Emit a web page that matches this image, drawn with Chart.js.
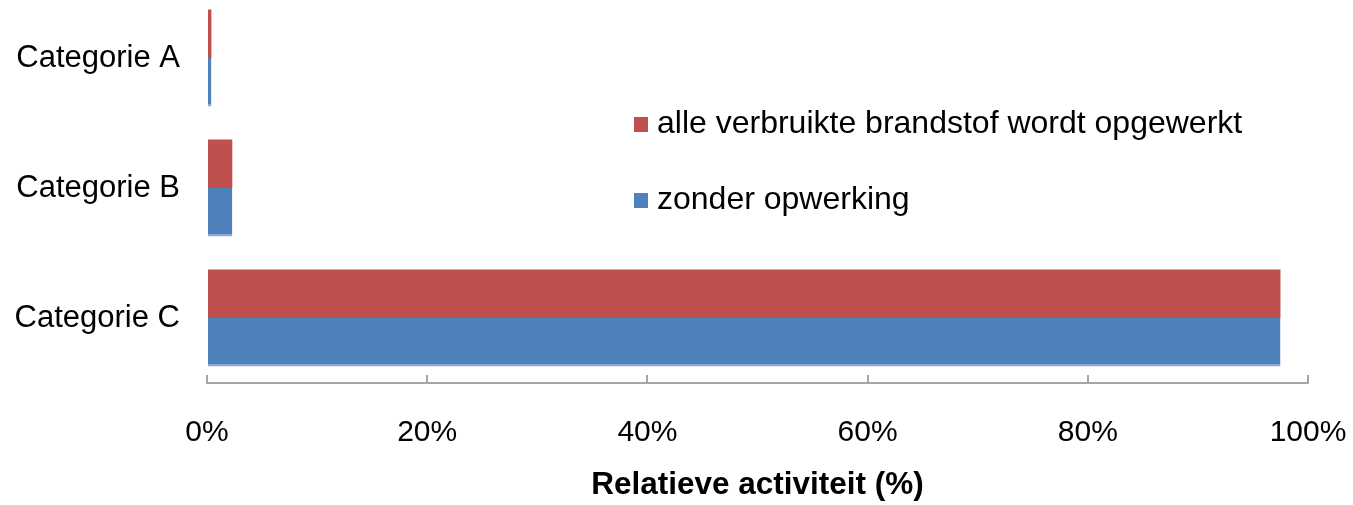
<!DOCTYPE html>
<html>
<head>
<meta charset="utf-8">
<script src="https://cdn.jsdelivr.net/npm/chart.js@4.4.1/dist/chart.umd.min.js"></script>
<style>
  body { margin: 0; overflow: hidden; background: #fff; }
  #wrap { position: absolute; left: 0; top: -8px; width: 1353px; height: 513px; }
</style>
</head>
<body>
<div id="wrap"><canvas id="activityChart"></canvas></div>
<script>
// data
const categories = ['Categorie A', 'Categorie B', 'Categorie C'];
const seriesNames = ['alle verbruikte brandstof wordt opgewerkt', 'zonder opwerking'];
const opgewerkt = [0.4, 2.3, 97.5];
const zonderOpwerking = [0.4, 2.3, 97.5];
const xTicks = [0, 20, 40, 60, 80, 100];

const RED = '#C0504D';
const BLUE = '#4F81BD';
const FONT = "'Liberation Sans', Arial, sans-serif";

// legend drawn at a fixed spot inside the plot, like the original
const sideLegend = {
    id: 'sideLegend',
    afterDraw(chart) {
        const ctx = chart.ctx;
        const rows = [125, 201];
        ctx.save();
        ctx.font = '32px ' + FONT;
        ctx.textBaseline = 'alphabetic';
        chart.data.datasets.forEach((ds, i) => {
            ctx.fillStyle = ds.backgroundColor;
            ctx.fillRect(634, rows[i], 14, 15);
            ctx.fillStyle = '#000';
            ctx.fillText(ds.label, 657, rows[i] + 16);
        });
        ctx.restore();
    }
};

const ctx = document.getElementById('activityChart').getContext('2d');
new Chart(ctx, {
    type: 'bar',
    data: {
        labels: categories,
        datasets: [{
            label: seriesNames[0],
            data: opgewerkt,
            backgroundColor: RED,
            borderWidth: 0,
            categoryPercentage: 0.746,
            barPercentage: 1
        }, {
            label: seriesNames[1],
            data: zonderOpwerking,
            backgroundColor: BLUE,
            borderColor: '#8AAAD6',
            borderWidth: { bottom: 2 },
            borderSkipped: false,
            categoryPercentage: 0.746,
            barPercentage: 1
        }]
    },
    options: {
        indexAxis: 'y',
        responsive: true,
        maintainAspectRatio: false,
        animation: false,
        layout: { padding: { top: 1, right: 45, bottom: 0, left: 0 } },
        plugins: {
            legend: { display: false },
            tooltip: { enabled: false }
        },
        scales: {
            x: {
                min: 0,
                max: 100,
                afterBuildTicks: scale => {
                    scale.ticks = xTicks.map(v => ({ value: v }));
                },
                afterFit: scale => {
                    scale.height = 122;
                    scale.paddingLeft = 0;
                    scale.paddingRight = 0;
                },
                grid: {
                    drawOnChartArea: false,
                    drawTicks: true,
                    tickLength: -8,
                    color: '#A6A6A6',
                    lineWidth: 2
                },
                border: { display: true, color: '#A6A6A6', width: 2 },
                ticks: {
                    padding: 40,
                    color: '#000',
                    font: { family: FONT, size: 30 },
                    callback: v => v + '%'
                },
                title: {
                    display: true,
                    text: 'Relatieve activiteit (%)',
                    color: '#000',
                    font: { family: FONT, size: 31.5, weight: 'bold' },
                    padding: { top: 0, bottom: 1 }
                }
            },
            y: {
                afterFit: scale => {
                    scale.width = 207;
                    scale.paddingTop = 0;
                    scale.paddingBottom = 0;
                },
                grid: { display: false, drawTicks: false },
                border: { display: false },
                ticks: {
                    padding: 27,
                    color: '#000',
                    font: { family: FONT, size: 31 }
                }
            }
        }
    },
    plugins: [sideLegend]
});
</script>
</body>
</html>
